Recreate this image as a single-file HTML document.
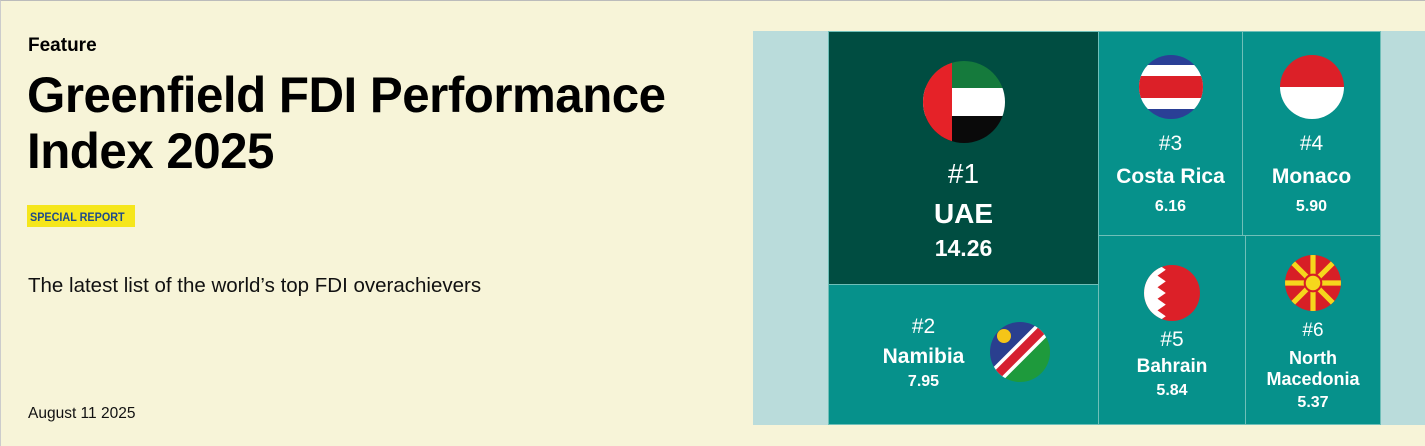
<!DOCTYPE html>
<html><head><style>
*{margin:0;padding:0;box-sizing:border-box}
body{width:1425px;height:446px;background:#f7f4d8;position:relative;overflow:hidden;font-family:"Liberation Sans",sans-serif;border-top:1px solid #bbb;border-left:1px solid #ccc}
.a{position:absolute;white-space:nowrap}
.t{font-weight:bold;color:#000;transform-origin:left top}
.c{position:absolute;color:#fff;text-align:center;border:1px solid #6fbfb8}
.c .n{font-size:21px;font-weight:normal}
.c .m{font-size:21px;font-weight:bold}
.c .v{font-size:16px;font-weight:bold}
.c div,.c svg{position:absolute;left:0;right:0;margin:auto}
</style></head><body>
<div class="a t" style="left:27px;top:34px;font-size:19px">Feature</div>
<div class="a t" style="left:26px;top:66px;font-size:50px;line-height:56px;transform:scaleX(0.985);letter-spacing:-0.5px">Greenfield FDI Performance<br>Index 2025</div>
<div class="a" style="left:26px;top:204px;width:108px;height:22px;background:#f5e61c"></div>
<div class="a t" style="left:29px;top:209px;font-size:12px;color:#1e4a8c;transform:scaleX(0.9)">SPECIAL REPORT</div>
<div class="a" style="left:27px;top:273px;font-size:20.5px;color:#111">The latest list of the world’s top FDI overachievers</div>
<div class="a" style="left:27px;top:404px;font-size:15.5px;color:#111">August 11 2025</div>

<div class="a" style="left:752px;top:30px;width:673px;height:394px;background:#badcdb"></div>
<div class="a" style="left:827px;top:30px;width:553px;height:394px;background:#06918b"></div>

<div class="c" style="left:827px;top:30px;width:271px;height:254px;background:#004d41">
 <svg style="top:28px" width="84" height="84" viewBox="0 0 84 84"><clipPath id="u"><circle cx="42" cy="42" r="41"/></clipPath><g clip-path="url(#u)"><rect width="84" height="28" fill="#157a3c"/><rect y="28" width="84" height="28" fill="#fff"/><rect y="56" width="84" height="28" fill="#0a0a0a"/><rect width="30" height="84" fill="#e52228"/></g></svg>
 <div class="n" style="top:126px;font-size:28px">#1</div>
 <div class="m" style="top:166px;font-size:28px">UAE</div>
 <div class="v" style="top:203px;font-size:23px">14.26</div>
</div>
<div class="c" style="left:1097px;top:30px;width:145px;height:205px">
 <svg style="top:22px" width="66" height="66" viewBox="0 0 66 66"><clipPath id="cr"><circle cx="33" cy="33" r="32"/></clipPath><g clip-path="url(#cr)"><rect width="66" height="66" fill="#2a3f96"/><rect y="11" width="66" height="44" fill="#fff"/><rect y="22" width="66" height="22" fill="#dc2028"/></g></svg>
 <div class="n" style="top:100px">#3</div>
 <div class="m" style="top:133px">Costa Rica</div>
 <div class="v" style="top:166px">6.16</div>
</div>
<div class="c" style="left:1241px;top:30px;width:139px;height:205px">
 <svg style="top:22px" width="66" height="66" viewBox="0 0 66 66"><clipPath id="mo"><circle cx="33" cy="33" r="32"/></clipPath><g clip-path="url(#mo)"><rect width="66" height="33" fill="#dc2028"/><rect y="33" width="66" height="33" fill="#fff"/></g></svg>
 <div class="n" style="top:100px">#4</div>
 <div class="m" style="top:133px">Monaco</div>
 <div class="v" style="top:166px">5.90</div>
</div>
<div class="c" style="left:827px;top:283px;width:271px;height:141px">
 <div class="n" style="top:30px;left:-80px">#2</div>
 <div class="m" style="top:60px;left:-80px">Namibia</div>
 <div class="v" style="top:88px;left:-80px">7.95</div>
 <svg style="top:36px;left:160px;right:auto" width="62" height="62" viewBox="0 0 62 62"><clipPath id="na"><circle cx="31" cy="31" r="30"/></clipPath><g clip-path="url(#na)"><polygon points="0,0 62,0 0,62" fill="#2a3f8f"/><polygon points="62,0 62,62 0,62" fill="#1e9a3c"/><line x1="66" y1="-4" x2="-4" y2="66" stroke="#fff" stroke-width="16"/><line x1="66" y1="-4" x2="-4" y2="66" stroke="#d62030" stroke-width="9"/><circle cx="15" cy="15" r="7" fill="#f5c518"/></g></svg>
</div>
<div class="c" style="left:1097px;top:234px;width:148px;height:190px">
 <svg style="top:28px" width="58" height="58" viewBox="0 0 56 56"><clipPath id="ba"><circle cx="28" cy="28" r="27"/></clipPath><g clip-path="url(#ba)"><rect width="56" height="56" fill="#dc2028"/><polygon points="0,0 14,0 22,5.6 14,11.2 22,16.8 14,22.4 22,28 14,33.6 22,39.2 14,44.8 22,50.4 14,56 0,56" fill="#fff"/></g></svg>
 <div class="n" style="top:92px">#5</div>
 <div class="m" style="top:120px;font-size:19px">Bahrain</div>
 <div class="v" style="top:146px">5.84</div>
</div>
<div class="c" style="left:1244px;top:234px;width:136px;height:190px">
 <svg style="top:18px" width="58" height="58" viewBox="0 0 56 56"><clipPath id="mk"><circle cx="28" cy="28" r="27"/></clipPath><g clip-path="url(#mk)"><rect width="56" height="56" fill="#d71f26"/><g stroke="#f6d71c" stroke-width="5"><line x1="28" y1="0" x2="28" y2="56"/><line x1="0" y1="28" x2="56" y2="28"/><line x1="0" y1="0" x2="56" y2="56"/><line x1="56" y1="0" x2="0" y2="56"/></g><circle cx="28" cy="28" r="8" fill="#f6d71c" stroke="#d71f26" stroke-width="2"/></g></svg>
 <div class="n" style="top:84px;font-size:19px">#6</div>
 <div class="m" style="top:112px;font-size:18px;line-height:21px">North<br>Macedonia</div>
 <div class="v" style="top:158px">5.37</div>
</div>
</body></html>
